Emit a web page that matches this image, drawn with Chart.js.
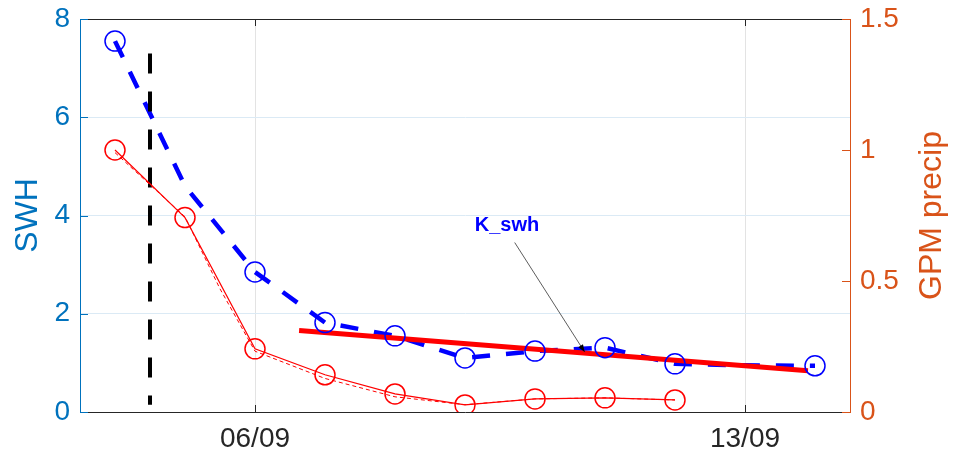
<!DOCTYPE html>
<html>
<head>
<meta charset="utf-8">
<script src="https://cdn.jsdelivr.net/npm/chart.js@4/dist/chart.umd.min.js"></script>
<style>
  body { margin: 0; background: #fff; }
  canvas { display: block; }
</style>
</head>
<body>
<canvas id="swhChart" width="954" height="461"></canvas>
<script>
// x axis is day of September
const dayTicks = [6, 13];
const dayTickLabels = ['06/09', '13/09'];

// SWH (left axis), dashed line has points without markers on 05/09 and 13/09
const swhLineDays = [4, 5, 6, 7, 8, 9, 10, 11, 12, 13, 14];
const swhLine = [7.55, 4.6, 2.85, 1.82, 1.55, 1.10, 1.24, 1.31, 0.98, 0.95, 0.94];
const swhMarkerDays = [4, 6, 7, 8, 9, 10, 11, 12, 14];
const swhMarkers = [7.55, 2.85, 1.82, 1.55, 1.10, 1.24, 1.31, 0.98, 0.94];

// GPM precip (right axis)
const precipDays = [4, 5, 6, 7, 8, 9, 10, 11, 12];
const precip = [1.0, 0.742, 0.241, 0.142, 0.069, 0.027, 0.05, 0.054, 0.046];
const precipAltDays = [4, 5, 5.5, 6, 7, 8, 9, 10, 11, 12];
const precipAlt = [0.99, 0.745, 0.47, 0.232, 0.128, 0.058, 0.028, 0.05, 0.054, 0.046];

// K_swh fit line (left axis)
const fitDays = [6.63, 13.9];
const fitSwh = [1.66, 0.84];

// black vertical marker
const eventDays = [4.5, 4.5];
const eventSwh = [7.3, 0.15];

// annotation: text position and arrow (data units, left axis)
const noteText = 'K_swh';
const notePos = [9.6, 3.79];
const arrowFrom = [9.71, 3.45];
const arrowTo = [10.71, 1.22];

const rightTitle = 'GPM precip';

const toXY = (xs, ys) => xs.map((v, i) => ({ x: v, y: ys[i] }));

const axisBlue = '#0072BD';
const axisOrange = '#D95319';
const fontFam = '"Liberation Sans", Arial, Helvetica, sans-serif';

// inward ticks, top frame, right title and the K_swh note
const frameAndNotes = {
  id: 'frameAndNotes',
  afterDatasetsDraw(chart) {
    const { ctx, chartArea: a, scales: { x, y, y1 } } = chart;
    const seg = (x0, y0, x1, y1_) => {
      ctx.beginPath(); ctx.moveTo(x0, y0); ctx.lineTo(x1, y1_); ctx.stroke();
    };
    ctx.save();
    ctx.lineWidth = 1;
    ctx.strokeStyle = '#262626';
    seg(a.left, a.top + 0.5, a.right, a.top + 0.5);
    dayTicks.forEach(d => {
      const px = Math.round(x.getPixelForValue(d)) + 0.5;
      seg(px, a.bottom, px, a.bottom - 7);
      seg(px, a.top, px, a.top + 7);
    });
    ctx.strokeStyle = axisBlue;
    y.ticks.forEach(t => {
      const py = Math.round(y.getPixelForValue(t.value)) + 0.5;
      seg(a.left, py, a.left + 8, py);
    });
    ctx.strokeStyle = axisOrange;
    y1.ticks.forEach(t => {
      const py = Math.round(y1.getPixelForValue(t.value)) + 0.5;
      seg(a.right, py, a.right - 8, py);
    });

    // annotation arrow
    const ax0 = x.getPixelForValue(arrowFrom[0]), ay0 = y.getPixelForValue(arrowFrom[1]);
    const ax1 = x.getPixelForValue(arrowTo[0]), ay1 = y.getPixelForValue(arrowTo[1]);
    ctx.strokeStyle = '#333';
    ctx.lineWidth = 0.8;
    seg(ax0, ay0, ax1, ay1);
    const ang = Math.atan2(ay1 - ay0, ax1 - ax0);
    ctx.fillStyle = '#000';
    ctx.beginPath();
    ctx.moveTo(ax1, ay1);
    ctx.lineTo(ax1 - 8 * Math.cos(ang - 0.35), ay1 - 8 * Math.sin(ang - 0.35));
    ctx.lineTo(ax1 - 8 * Math.cos(ang + 0.35), ay1 - 8 * Math.sin(ang + 0.35));
    ctx.closePath();
    ctx.fill();

    ctx.font = 'bold 20px ' + fontFam;
    ctx.fillStyle = '#0000FF';
    ctx.textAlign = 'center';
    ctx.textBaseline = 'middle';
    ctx.fillText(noteText, x.getPixelForValue(notePos[0]), y.getPixelForValue(notePos[1]));

    // right axis title, reading bottom to top like the left one
    ctx.translate(y1.right - 22, (a.top + a.bottom) / 2);
    ctx.rotate(-Math.PI / 2);
    ctx.font = '32px ' + fontFam;
    ctx.fillStyle = axisOrange;
    ctx.fillText(rightTitle, 0, 0);
    ctx.restore();
  }
};

const noEdgePad = s => { s.paddingTop = 0; s.paddingBottom = 0; s.paddingLeft = 0; s.paddingRight = 0; };

new Chart(document.getElementById('swhChart').getContext('2d'), {
  type: 'line',
  data: {
    datasets: [
      {
        // blue circles on top
        data: toXY(swhMarkerDays, swhMarkers),
        yAxisID: 'y',
        showLine: false,
        pointStyle: 'circle',
        pointRadius: 10,
        pointBorderWidth: 1.5,
        pointBorderColor: '#0000FF',
        pointBackgroundColor: 'rgba(0,0,0,0)',
        order: 0
      },
      {
        data: toXY(fitDays, fitSwh),
        yAxisID: 'y',
        borderColor: '#FF0000',
        borderWidth: 5,
        pointRadius: 0,
        order: 1
      },
      {
        data: toXY(precipDays, precip),
        yAxisID: 'y1',
        borderColor: '#FF0000',
        borderWidth: 1.2,
        pointStyle: 'circle',
        pointRadius: 10,
        pointBorderWidth: 1.5,
        pointBorderColor: '#FF0000',
        pointBackgroundColor: 'rgba(0,0,0,0)',
        order: 2
      },
      {
        data: toXY(precipAltDays, precipAlt),
        yAxisID: 'y1',
        borderColor: '#FF0000',
        borderWidth: 1,
        borderDash: [4, 3],
        pointRadius: 0,
        order: 3
      },
      {
        data: toXY(eventDays, eventSwh),
        yAxisID: 'y',
        borderColor: '#000',
        borderWidth: 4,
        borderDash: [20, 18],
        borderCapStyle: 'butt',
        pointRadius: 0,
        order: 4
      },
      {
        data: toXY(swhLineDays, swhLine),
        yAxisID: 'y',
        borderColor: '#0000FF',
        borderWidth: 4.5,
        borderDash: [18, 16],
        pointRadius: 0,
        order: 5
      }
    ]
  },
  options: {
    responsive: false,
    animation: false,
    devicePixelRatio: 1,
    layout: { padding: { top: 19, left: 0, right: 0, bottom: 0 } },
    plugins: { legend: { display: false }, tooltip: { enabled: false } },
    scales: {
      x: {
        type: 'linear',
        min: 3.5,
        max: 14.5,
        afterBuildTicks: s => { s.ticks = dayTicks.map(v => ({ value: v })); },
        afterFit: s => { s.height = 49; noEdgePad(s); },
        ticks: {
          callback: v => dayTickLabels[dayTicks.indexOf(v)] ?? '',
          color: '#262626',
          font: { family: fontFam, size: 28 },
          padding: 10,
          maxRotation: 0
        },
        grid: { color: '#e3e3e3', drawTicks: false },
        border: { color: '#262626', width: 1 }
      },
      y: {
        position: 'left',
        min: 0,
        max: 8,
        afterFit: s => { s.width = 80; noEdgePad(s); },
        ticks: {
          stepSize: 2,
          color: axisBlue,
          font: { family: fontFam, size: 28 },
          padding: 10
        },
        grid: { color: '#dbeaf5', drawTicks: false },
        border: { color: axisBlue, width: 1 },
        title: {
          display: true,
          text: 'SWH',
          color: axisBlue,
          font: { family: fontFam, size: 32 },
          padding: { top: 9, bottom: 0 }
        }
      },
      y1: {
        position: 'right',
        min: 0,
        max: 1.5,
        afterFit: s => { s.width = 104; noEdgePad(s); },
        ticks: {
          stepSize: 0.5,
          callback: v => String(v),
          color: axisOrange,
          font: { family: fontFam, size: 28 },
          padding: 10
        },
        grid: { display: false, drawTicks: false },
        border: { color: axisOrange, width: 1 },
        title: { display: false }
      }
    }
  },
  plugins: [frameAndNotes]
});
</script>
</body>
</html>
